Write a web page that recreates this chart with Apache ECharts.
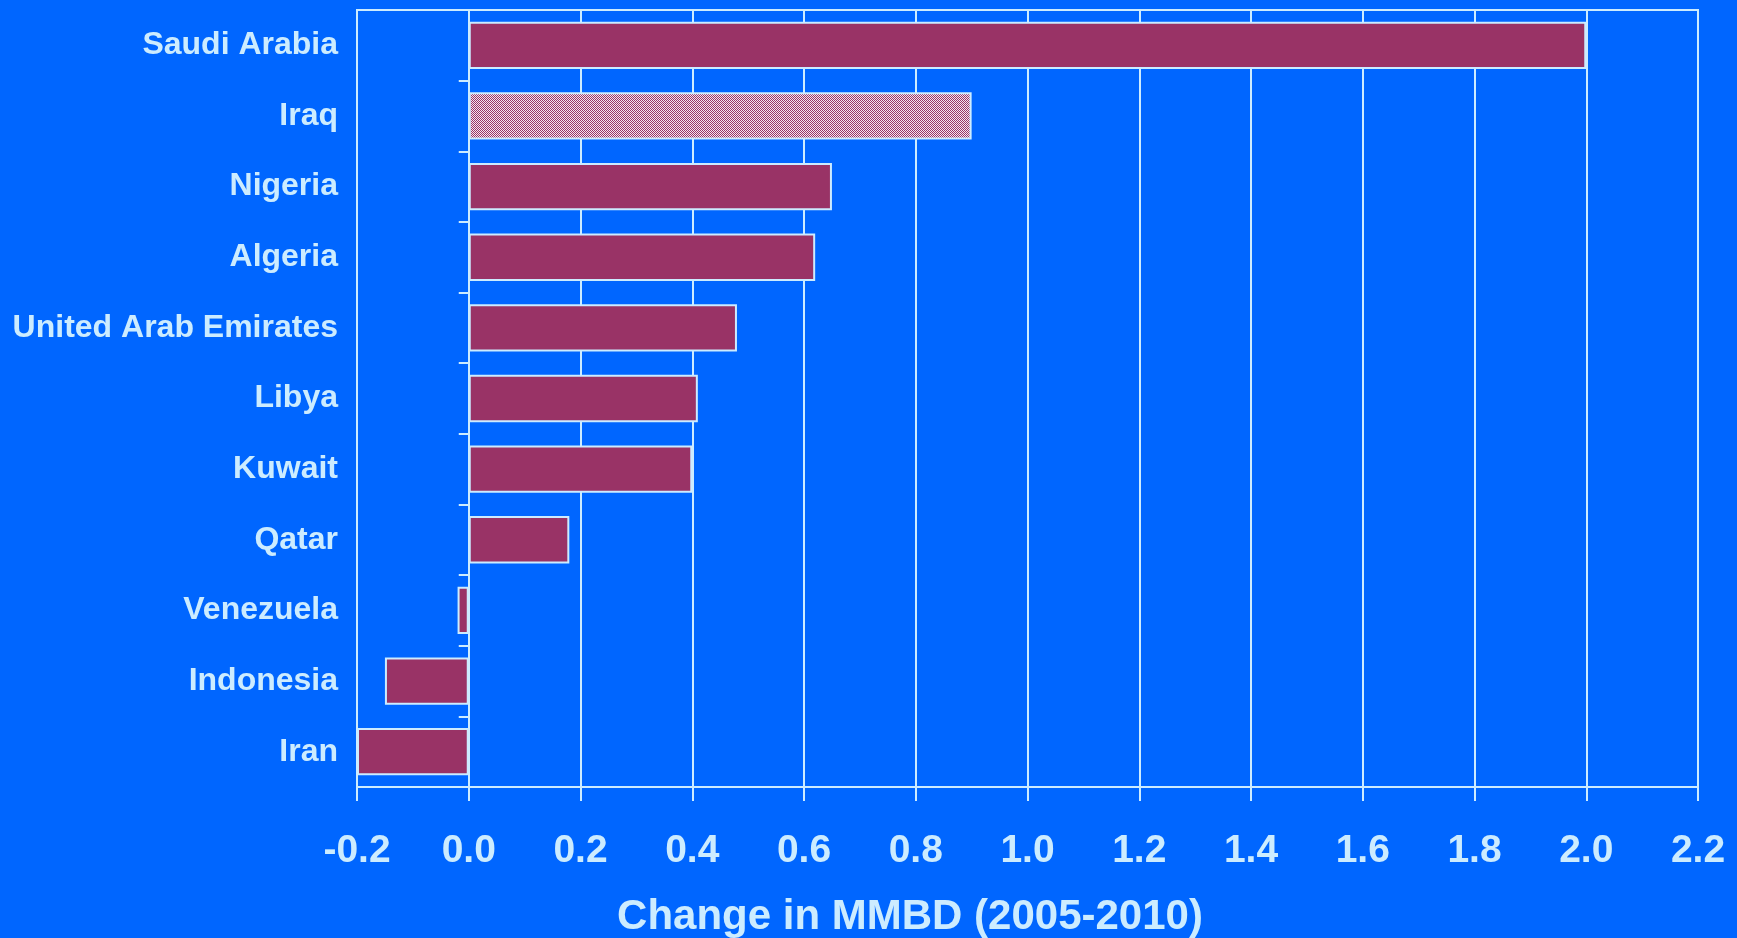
<!DOCTYPE html>
<html>
<head>
<meta charset="utf-8">
<title>Change in MMBD (2005-2010)</title>
<script src="https://cdn.jsdelivr.net/npm/echarts@6/dist/echarts.min.js"></script>
<style>
  html, body { margin: 0; padding: 0; background: #0066FF; }
  #chart { width: 1737px; height: 938px; }
</style>
</head>
<body>
<div id="chart"></div>
<script>
// Countries, top to bottom
const countries = [
  'Saudi Arabia', 'Iraq', 'Nigeria', 'Algeria', 'United Arab Emirates',
  'Libya', 'Kuwait', 'Qatar', 'Venezuela', 'Indonesia', 'Iran'
];
// Change in production capacity, million barrels per day
const changeMMBD = [2.0, 0.9, 0.65, 0.62, 0.48, 0.41, 0.40, 0.18, -0.02, -0.15, -0.2];
// Country drawn with the hatched (stippled) fill
const hatchedCountries = ['Iraq'];
const axisTitle = 'Change in MMBD (2005-2010)';

const BG = '#0066FF';
const INK = '#CCECFF';
const BAR = '#993366';
const FONT = '"Liberation Sans", Arial, sans-serif';

// fine checkerboard used for the stippled bar
function stipple() {
  const c = document.createElement('canvas');
  c.width = 2; c.height = 2;
  const g = c.getContext('2d');
  g.fillStyle = '#F4E6EE'; g.fillRect(0, 0, 2, 2);
  g.fillStyle = BAR; g.fillRect(0, 0, 1, 1); g.fillRect(1, 1, 1, 1);
  return c;
}
const stipplePattern = { image: stipple(), repeat: 'repeat' };

const barData = countries.map((name, i) => {
  const item = { value: changeMMBD[i] };
  if (hatchedCountries.includes(name)) item.itemStyle = { color: stipplePattern };
  return item;
});

const chart = echarts.init(document.getElementById('chart'), null, { renderer: 'canvas' });
chart.setOption({
  backgroundColor: BG,
  animation: false,
  grid: {
    left: 357, right: 39, top: 10, bottom: 151,
    show: true, borderColor: INK, borderWidth: 2, backgroundColor: 'transparent'
  },
  xAxis: {
    type: 'value',
    min: -0.2, max: 2.2, interval: 0.2,
    axisLine: { show: true, onZero: false, lineStyle: { color: INK, width: 2 } },
    axisTick: { show: true, length: 14, lineStyle: { color: INK, width: 2 } },
    splitLine: { show: true, lineStyle: { color: INK, width: 2 } },
    axisLabel: {
      color: INK, fontFamily: FONT, fontWeight: 'bold', fontSize: 39,
      margin: 45, formatter: v => v.toFixed(1)
    }
  },
  yAxis: [
    {
      type: 'category', data: countries, inverse: true, position: 'left',
      axisLine: { show: false, onZero: false },
      axisTick: { show: false },
      splitLine: { show: false },
      axisLabel: {
        color: INK, fontFamily: FONT, fontWeight: 'bold', fontSize: 32, margin: 19,
        padding: [4, 0, 0, 0]
      }
    },
    {
      // zero line with category ticks
      type: 'category', data: countries, inverse: true, position: 'left',
      axisLine: { show: true, onZero: true, lineStyle: { color: INK, width: 2 } },
      axisTick: { show: true, length: 10, lineStyle: { color: INK, width: 2 } },
      splitLine: { show: false },
      axisLabel: { show: false }
    }
  ],
  series: [{
    type: 'bar',
    yAxisIndex: 0,
    data: barData,
    barWidth: '67%',
    itemStyle: { color: BAR, borderColor: INK, borderWidth: 2 }
  }],
  graphic: [{
    type: 'text',
    x: 910, y: 917,
    style: {
      text: axisTitle, fill: INK,
      font: 'bold 42px ' + FONT,
      textAlign: 'center', textVerticalAlign: 'middle'
    }
  }]
});
</script>
</body>
</html>
